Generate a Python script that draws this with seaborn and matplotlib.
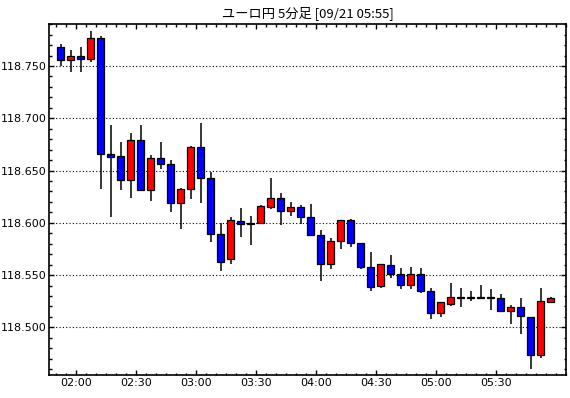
import numpy as np
import matplotlib
matplotlib.use("Agg")
import matplotlib.pyplot as plt
import seaborn as sns
from matplotlib.ticker import MultipleLocator, FixedLocator, FuncFormatter

# 5-minute candles, 01:50 .. 05:55 (minutes after midnight)
start_min = 110
open_ = [118.768, 118.7555, 118.7596, 118.7564, 118.7765, 118.6655, 118.6636, 118.6406, 118.6789, 118.6311,
         118.6617, 118.6559, 118.6186, 118.6320, 118.6722, 118.6425, 118.5890, 118.5650, 118.6014, 118.5995,
         118.5995, 118.6148, 118.6234, 118.6110, 118.6148, 118.6052, 118.5880, 118.5608, 118.5823, 118.6023,
         118.5803, 118.5574, 118.5392, 118.5593, 118.5507, 118.5401, 118.5507, 118.5344, 118.5133, 118.5220,
         118.5285, 118.5282, 118.5283, 118.5283, 118.5277, 118.5158, 118.5190, 118.5101, 118.4740, 118.5245]
high_ = [118.771, 118.7653, 118.7685, 118.7835, 118.7787, 118.6933, 118.6773, 118.6859, 118.6933, 118.6645,
         118.6773, 118.6600, 118.6330, 118.6734, 118.6957, 118.6489, 118.5995, 118.6052, 118.6138, 118.6065,
         118.6167, 118.6428, 118.6282, 118.6196, 118.6170, 118.6180, 118.5928, 118.5851, 118.6023, 118.6036,
         118.5803, 118.5720, 118.5602, 118.5691, 118.5564, 118.5574, 118.5564, 118.5373, 118.5239, 118.5421,
         118.5373, 118.5347, 118.5404, 118.5363, 118.5318, 118.5213, 118.5280, 118.5101, 118.5373, 118.5287]
low_ = [118.750, 118.7445, 118.7445, 118.7541, 118.6326, 118.6052, 118.6316, 118.6240, 118.6304, 118.6211,
        118.6517, 118.6106, 118.5937, 118.6230, 118.6192, 118.5819, 118.5541, 118.5602, 118.5861, 118.5790,
        118.5985, 118.6134, 118.5980, 118.6062, 118.5985, 118.5880, 118.5440, 118.5560, 118.5752, 118.5771,
        118.5560, 118.5344, 118.5373, 118.5468, 118.5363, 118.5363, 118.5325, 118.5076, 118.5095, 118.5200,
        118.5190, 118.5254, 118.5267, 118.5165, 118.5158, 118.5034, 118.4938, 118.4603, 118.4709, 118.5245]
close_ = [118.7555, 118.7596, 118.7564, 118.7765, 118.6655, 118.6626, 118.6406, 118.6789, 118.6311, 118.6620,
          118.6559, 118.6186, 118.6320, 118.6722, 118.6425, 118.5890, 118.5627, 118.6023, 118.5985, 118.5985,
          118.6157, 118.6234, 118.6110, 118.6148, 118.6052, 118.5880, 118.5608, 118.5823, 118.6023, 118.5803,
          118.5574, 118.5382, 118.5602, 118.5507, 118.5401, 118.5507, 118.5344, 118.5133, 118.5239, 118.5287,
          118.5285, 118.5282, 118.5283, 118.5283, 118.5158, 118.5190, 118.5110, 118.4740, 118.5249, 118.5277]
time_ticks = [120, 150, 180, 210, 240, 270, 300, 330]  # 02:00 .. 05:30
title = "ユーロ円 5分足 [09/21 05:55]"

sns.set_style("ticks")
plt.rcParams['font.family'] = ['Noto Sans CJK JP', 'DejaVu Sans']

fig = plt.figure(figsize=(5.7, 3.98), dpi=100)
ax = fig.add_axes([49 / 570, 23 / 398, 517 / 570, 351 / 398])

o = np.array(open_)
h = np.array(high_)
l = np.array(low_)
c = np.array(close_)
x = start_min + 5 * np.arange(len(o)) + 2.5

up = c >= o
colors = np.where(up, "#ff0000", "#0000ff")
bottoms = np.minimum(o, c)
heights = np.maximum(np.abs(c - o), 0.0004)

ax.vlines(x, l, h, color="black", linewidth=1.1, zorder=2)
ax.bar(x, heights, bottom=bottoms, width=3.4, color=colors,
       edgecolor="black", linewidth=0.9, zorder=3)

ax.set_xlim(106.65, 365.15)
ax.set_ylim(118.4544, 118.7902)

ax.xaxis.set_major_locator(FixedLocator(time_ticks))
ax.xaxis.set_minor_locator(MultipleLocator(5))
ax.xaxis.set_major_formatter(FuncFormatter(lambda v, p: f"{int(v)//60:02d}:{int(v)%60:02d}"))
ax.yaxis.set_major_locator(MultipleLocator(0.05))
ax.yaxis.set_minor_locator(MultipleLocator(0.01))
ax.yaxis.set_major_formatter(FuncFormatter(lambda v, p: f"{v:.3f}"))

ax.tick_params(which="both", direction="in", top=True, right=True, color="black",
               labelsize=8, labelcolor="black", width=1)
ax.tick_params(which="major", length=3.5, pad=2)
ax.tick_params(which="minor", length=1.8)
for lab in ax.get_xticklabels() + ax.get_yticklabels():
    lab.set_family("DejaVu Sans")

ax.grid(axis="y", which="major", color="black", linestyle=(0, (1, 2)), linewidth=0.8)
ax.set_axisbelow(True)
for s in ax.spines.values():
    s.set_color("black")
    s.set_linewidth(1.2)

fig.text(307.5 / 570, 1 - 13 / 398, title, ha="center", va="center", fontsize=9.5, color="black")

fig.savefig("out.png", dpi=100, facecolor="white")
